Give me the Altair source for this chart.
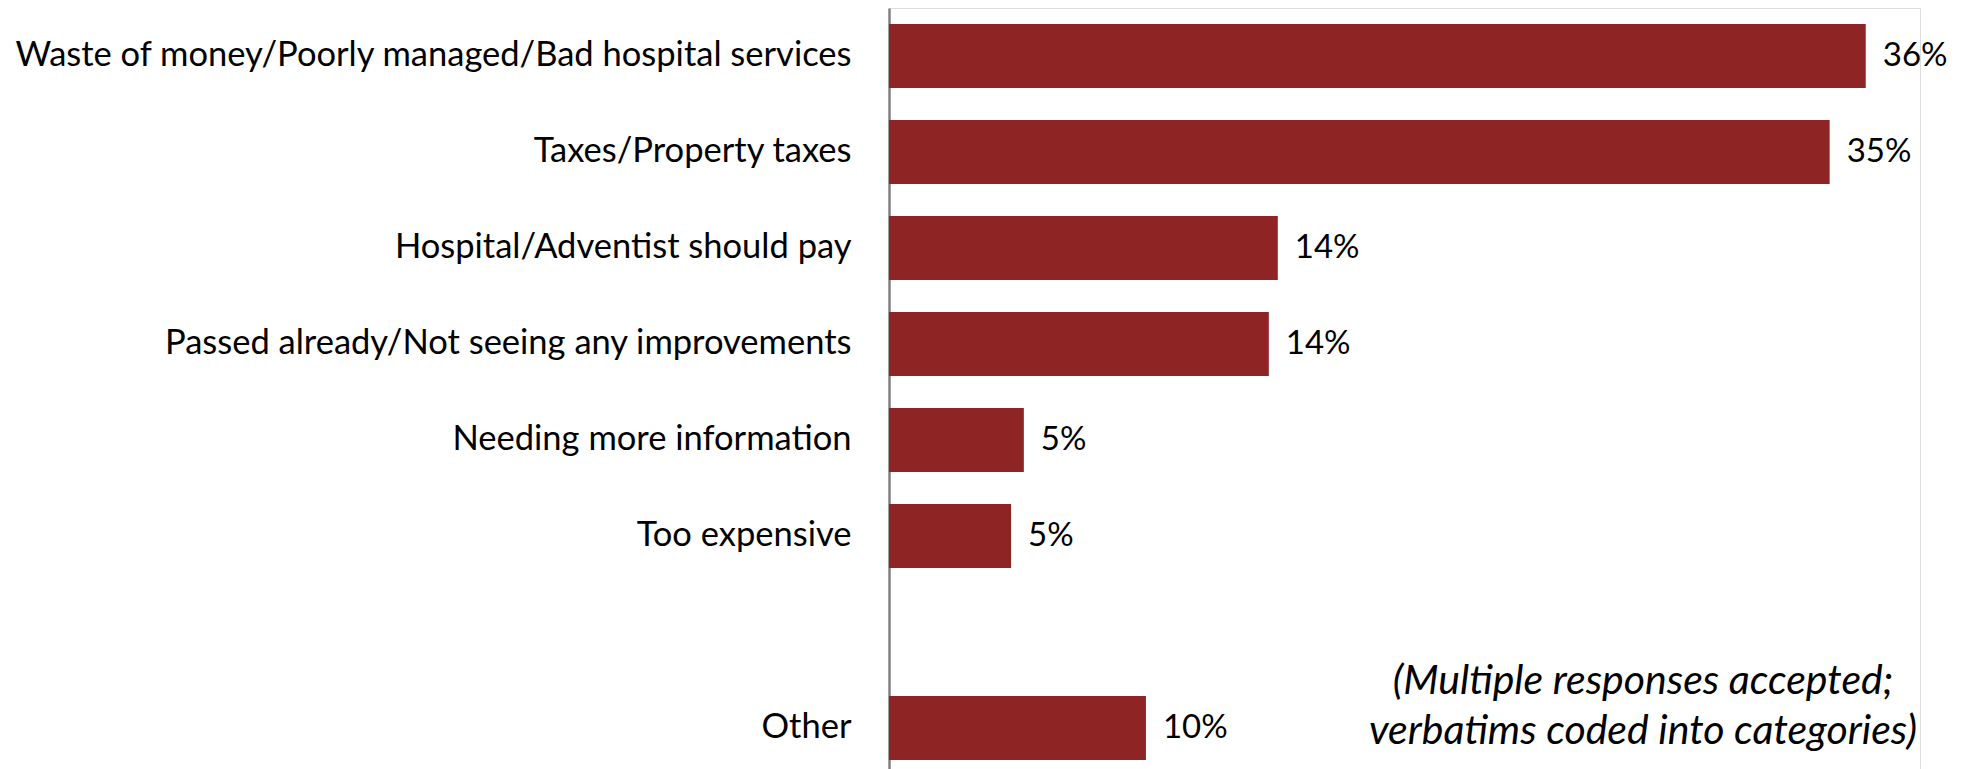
import altair as alt
import pandas as pd

categories = [
    "Waste of money/Poorly managed/Bad hospital services",
    "Taxes/Property taxes",
    "Hospital/Adventist should pay",
    "Passed already/Not seeing any improvements",
    "Needing more information",
    "Too expensive",
    "Other",
]
values = [36.0, 34.67, 14.33, 14.0, 4.97, 4.5, 9.47]
value_labels = ["36%", "35%", "14%", "14%", "5%", "5%", "10%"]
domain_order = categories[:6] + [" "] + categories[6:]
note_text = "(Multiple responses accepted;\nverbatims coded into categories)"

df = pd.DataFrame({"cat": categories, "val": values, "lab": value_labels})

FONT = "Lato"
FS = 34.5
BAR = "#8F2424"

y_enc = alt.Y(
    "cat:N",
    sort=domain_order,
    scale=alt.Scale(domain=domain_order, paddingInner=1 / 3, paddingOuter=0.13, align=0.64),
    axis=alt.Axis(
        title=None,
        ticks=False,
        labelPadding=38,
        labelFont=FONT,
        labelFontSize=FS,
        labelColor="#000000",
        labelLimit=2000,
        domainColor="#808080",
        domainWidth=2.5,
        minExtent=881,
        maxExtent=881,
        grid=False,
    ),
)
x_enc = alt.X("val:Q", scale=alt.Scale(domain=[0, 38], nice=False), axis=None)

bars = alt.Chart(df).mark_bar(color=BAR).encode(x=x_enc, y=y_enc)
labels = alt.Chart(df).mark_text(
    align="left", baseline="middle", dx=17, font=FONT, fontSize=33, color="#000000"
).encode(x=x_enc, y=y_enc, text="lab:N")

note = alt.Chart(pd.DataFrame({"t": [note_text]})).mark_text(
    align="center", baseline="alphabetic", font=FONT, fontSize=41, fontStyle="italic",
    lineBreak="\n", lineHeight=50, color="#000000"
).encode(x=alt.value(754), y=alt.value(686), text="t:N")

chart = (
    alt.layer(bars, labels, note)
    .properties(width=1031, height=761, padding=0)
    .configure_view(stroke=None)
    .configure(background="#ffffff")
)

chart.save("out.html", embed_options={"renderer": "svg", "actions": False})
